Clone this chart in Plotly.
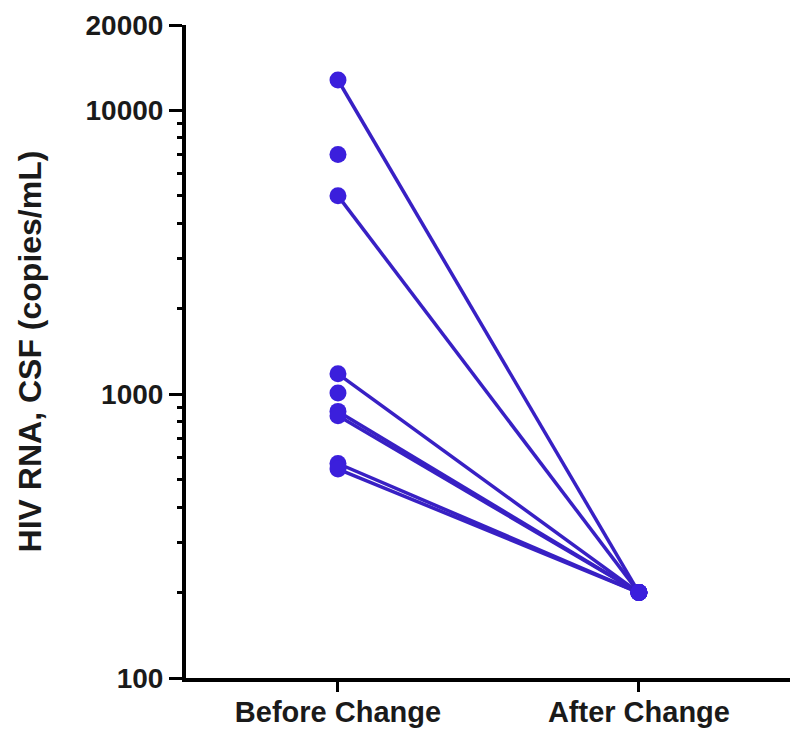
import plotly.graph_objects as go

categories = ["Before Change", "After Change"]
before_values = [12800, 7000, 5000, 1180, 1010, 870, 840, 570, 545]
after_values = [200, None, 200, 200, None, 200, 200, 200, 200]

y_tick_vals = [100, 1000, 10000, 20000]
y_tick_text = ["100", "1000", "10000", "20000"]
y_minor_vals = [200, 300, 400, 500, 600, 700, 800, 900,
                2000, 3000, 4000, 5000, 6000, 7000, 8000, 9000]

LINE_COLOR = "#3820c4"
MARKER_COLOR = "#3b1fdc"
FONT = "Liberation Sans, Arial, sans-serif"
TEXT_COLOR = "#1a1a1a"

fig = go.Figure()
for b, a in zip(before_values, after_values):
    xs = [0, 1] if a is not None else [0]
    ys = [b, a] if a is not None else [b]
    fig.add_trace(go.Scatter(
        x=xs, y=ys, mode="lines+markers",
        line=dict(color=LINE_COLOR, width=3.5),
        marker=dict(color=MARKER_COLOR, size=17),
        showlegend=False, hoverinfo="x+y",
    ))

# invisible trace tying the minor-tick axis to the plot
fig.add_trace(go.Scatter(x=[0], y=[1000], yaxis="y2", mode="markers",
                         marker=dict(opacity=0), showlegend=False,
                         hoverinfo="skip"))

# the page body adds an 8px margin, so the figure is sized/offset for it
fig.update_layout(
    width=790, height=722,
    margin=dict(l=178, r=8, t=17, b=52),
    paper_bgcolor="white", plot_bgcolor="white",
    font=dict(family=FONT, color="black"),
    xaxis=dict(
        range=[-0.505, 1.502], showgrid=False, zeroline=False, automargin=False,
        tickmode="array", tickvals=[0, 1], ticktext=categories,
        ticks="outside", ticklen=10, tickwidth=3, tickcolor="black",
        showline=True, linecolor="black", linewidth=4,
        ticklabelstandoff=-5,
        tickfont=dict(family=FONT, size=29, color=TEXT_COLOR, weight="bold"),
    ),
    yaxis=dict(
        type="log", range=[2, 4.30103], showgrid=False, zeroline=False,
        automargin=False,
        tickmode="array", tickvals=y_tick_vals, ticktext=y_tick_text,
        ticks="outside", ticklen=13, tickwidth=3, tickcolor="black",
        showline=True, linecolor="black", linewidth=4,
        tickfont=dict(family=FONT, size=28, color=TEXT_COLOR, weight="bold"),
        title=dict(text="HIV RNA, CSF (copies/mL)", standoff=35,
                   font=dict(family=FONT, size=32, color=TEXT_COLOR,
                             weight="bold")),
    ),
    yaxis2=dict(
        type="log", range=[2, 4.30103], overlaying="y", side="left",
        showgrid=False, zeroline=False, automargin=False, showline=False,
        tickmode="array", tickvals=y_minor_vals, showticklabels=False,
        ticks="outside", ticklen=8, tickwidth=3, tickcolor="black",
    ),
)

fig.write_html("out.html")
